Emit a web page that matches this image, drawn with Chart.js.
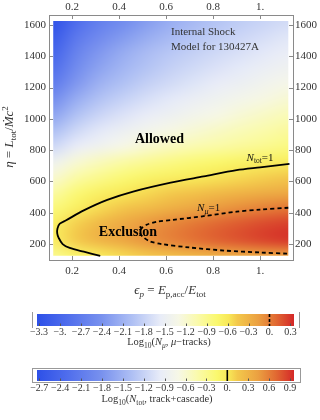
<!DOCTYPE html>
<html lang="en">
<head>
<meta charset="UTF-8">
<title>Internal Shock Model for 130427A</title>
<script src="https://cdn.jsdelivr.net/npm/chart.js"></script>
<style>
  body { margin: 0; background: #fff; }
  #wrap { position: relative; width: 320px; height: 420px; }
  #wrap canvas { position: absolute; left: 0; }
  #main { top: 0; }
  #barMu { top: 306px; }
  #barTot { top: 362px; }
</style>
</head>
<body>
<div id="wrap">
  <canvas id="main" width="320" height="300"></canvas>
  <canvas id="barMu" width="320" height="48"></canvas>
  <canvas id="barTot" width="320" height="52"></canvas>
</div>

<script>
// axis ticks
const epsTicks = [0.2, 0.4, 0.6, 0.8, 1.0];
const epsTickLabels = ['0.2', '0.4', '0.6', '0.8', '1.'];
const etaTicks = [200, 400, 600, 800, 1000, 1200, 1400, 1600];

// contour N_tot = 1 (solid)
const ntotEps = [1.125, 1.0, 0.90, 0.76, 0.62, 0.46, 0.35, 0.25, 0.175, 0.148, 0.138, 0.137, 0.143, 0.16, 0.19, 0.25, 0.32];
const ntotEta = [712, 690, 672, 632, 592, 535, 482, 415, 352, 330, 300, 268, 240, 200, 175, 151, 125];

// contour N_mu = 1 (dashed)
const nmuEps = [1.12, 1.0, 0.9, 0.76, 0.63, 0.56, 0.52, 0.495, 0.49, 0.50, 0.53, 0.58, 0.70, 0.85, 1.0, 1.12];
const nmuEta = [432, 420, 407, 378, 355, 342, 325, 300, 272, 248, 218, 200, 178, 158, 146, 138];

// density grid: Log10(N_tot), rows from eta = 125 (bottom) to 1625 (top)
const gridEps = [0.12, 0.22, 0.32, 0.42, 0.52, 0.62, 0.72, 0.82, 0.92, 1.02, 1.12];
const gridEta = [125, 225, 325, 425, 525, 625, 725, 825, 925, 1025, 1125, 1225, 1325, 1425, 1525, 1625];
const logNtot = [
  [-0.30, -0.12, 0.00, 0.08, 0.15, 0.22, 0.28, 0.33, 0.37, 0.40, 0.42],
  [-0.04, 0.14, 0.30, 0.40, 0.50, 0.58, 0.66, 0.73, 0.79, 0.85, 0.90],
  [-0.06, 0.12, 0.28, 0.38, 0.48, 0.56, 0.64, 0.71, 0.77, 0.83, 0.87],
  [-0.20, -0.04, 0.08, 0.18, 0.26, 0.34, 0.41, 0.48, 0.54, 0.60, 0.65],
  [-0.38, -0.18, -0.06, 0.02, 0.08, 0.14, 0.20, 0.26, 0.31, 0.35, 0.38],
  [-0.60, -0.40, -0.28, -0.18, -0.10, -0.05, 0.00, 0.04, 0.08, 0.12, 0.16],
  [-0.85, -0.62, -0.50, -0.40, -0.32, -0.25, -0.19, -0.14, -0.09, -0.05, -0.02],
  [-1.15, -0.95, -0.82, -0.70, -0.60, -0.52, -0.45, -0.40, -0.35, -0.30, -0.24],
  [-1.38, -1.15, -1.00, -0.88, -0.78, -0.69, -0.62, -0.55, -0.48, -0.42, -0.36],
  [-1.63, -1.35, -1.17, -1.05, -0.95, -0.86, -0.78, -0.70, -0.62, -0.55, -0.48],
  [-1.85, -1.55, -1.34, -1.20, -1.08, -0.99, -0.91, -0.83, -0.75, -0.68, -0.61],
  [-2.10, -1.74, -1.50, -1.35, -1.22, -1.12, -1.03, -0.95, -0.88, -0.80, -0.73],
  [-2.28, -1.88, -1.63, -1.46, -1.33, -1.22, -1.13, -1.05, -0.98, -0.91, -0.84],
  [-2.43, -2.00, -1.74, -1.56, -1.41, -1.30, -1.22, -1.14, -1.07, -1.00, -0.93],
  [-2.57, -2.15, -1.90, -1.72, -1.56, -1.43, -1.33, -1.24, -1.16, -1.09, -1.02],
  [-2.70, -2.30, -2.05, -1.88, -1.70, -1.55, -1.43, -1.33, -1.25, -1.18, -1.12]
];

// colorbar ticks
const muBarTicks = [-3.3, -3.0, -2.7, -2.4, -2.1, -1.8, -1.5, -1.2, -0.9, -0.6, -0.3, 0, 0.3];
const muBarLabels = ['\u22123.3', '\u22123.', '\u22122.7', '\u22122.4', '\u22122.1', '\u22121.8', '\u22121.5', '\u22121.2', '\u22120.9', '\u22120.6', '\u22120.3', '0.', '0.3'];
const totBarTicks = [-2.7, -2.4, -2.1, -1.8, -1.5, -1.2, -0.9, -0.6, -0.3, 0, 0.3, 0.6, 0.9];
const totBarLabels = ['\u22122.7', '\u22122.4', '\u22122.1', '\u22121.8', '\u22121.5', '\u22121.2', '\u22120.9', '\u22120.6', '\u22120.3', '0.', '0.3', '0.6', '0.9'];
const muRange = [-3.329, 0.351];
const totRange = [-2.733, 0.958];

// colour map (blue - white - yellow - red)
const cmapStops = [0, 0.12, 0.25, 0.37, 0.48, 0.55, 0.62, 0.70, 0.745, 0.78, 0.86, 0.93, 1];
const cmapColors = [[45, 80, 232], [80, 110, 236], [120, 145, 238], [175, 192, 244], [232, 236, 248], [246, 247, 230],
  [250, 250, 175], [250, 248, 110], [248, 232, 88], [243, 200, 75], [235, 160, 65], [225, 105, 50], [212, 40, 40]];

const SERIF = '"Liberation Serif", "DejaVu Serif", serif';
const f = (size, style) => (style || '') + ' ' + size + 'px ' + SERIF;
const TEXT = '#333';
const FRAME = '#8a8a8a';

function rgb(c) { return 'rgb(' + c[0] + ',' + c[1] + ',' + c[2] + ')'; }

function colorAt(t) {
  t = Math.max(0, Math.min(1, t));
  for (let i = 1; i < cmapStops.length; i++) {
    if (t <= cmapStops[i]) {
      const k = (t - cmapStops[i - 1]) / (cmapStops[i] - cmapStops[i - 1]);
      const a = cmapColors[i - 1], b = cmapColors[i];
      return [0, 1, 2].map(j => Math.round(a[j] + (b[j] - a[j]) * k));
    }
  }
  return cmapColors[cmapColors.length - 1];
}

// text with sub/superscripts, parts = [text, font, dy]
function rich(ctx, parts, x, y, align) {
  let w = 0;
  parts.forEach(p => { ctx.font = p[1]; w += ctx.measureText(p[0]).width; });
  let cx = align === 'left' ? x : x - w / 2;
  ctx.textAlign = 'left';
  ctx.textBaseline = 'alphabetic';
  parts.forEach(p => {
    ctx.font = p[1];
    ctx.fillText(p[0], cx, y + (p[2] || 0));
    cx += ctx.measureText(p[0]).width;
  });
}

// density plot drawn under the contour lines
const heatPlugin = {
  id: 'heat',
  beforeDatasetsDraw(chart) {
    const { ctx, scales: { x, y } } = chart;
    const nx = gridEps.length, ny = gridEta.length;
    const off = document.createElement('canvas');
    off.width = nx; off.height = ny;
    const octx = off.getContext('2d');
    const img = octx.createImageData(nx, ny);
    for (let j = 0; j < ny; j++) {
      for (let i = 0; i < nx; i++) {
        const v = logNtot[ny - 1 - j][i];
        const c = colorAt((v - totRange[0]) / (totRange[1] - totRange[0]));
        const k = (j * nx + i) * 4;
        img.data[k] = c[0]; img.data[k + 1] = c[1]; img.data[k + 2] = c[2]; img.data[k + 3] = 255;
      }
    }
    octx.putImageData(img, 0, 0);
    const dx = gridEps[1] - gridEps[0], dy = gridEta[1] - gridEta[0];
    const l = x.getPixelForValue(gridEps[0] - dx / 2), r = x.getPixelForValue(gridEps[nx - 1] + dx / 2);
    const t = y.getPixelForValue(gridEta[ny - 1] + dy / 2), b = y.getPixelForValue(gridEta[0] - dy / 2);
    const cl = x.getPixelForValue(gridEps[0]), cr = x.getPixelForValue(gridEps[nx - 1]);
    const ct = y.getPixelForValue(gridEta[ny - 1]), cb = y.getPixelForValue(gridEta[0]);
    ctx.save();
    ctx.beginPath();
    ctx.rect(cl, ct, cr - cl, cb - ct);
    ctx.clip();
    ctx.imageSmoothingEnabled = true;
    ctx.imageSmoothingQuality = 'high';
    ctx.drawImage(off, l, t, r - l, b - t);
    ctx.restore();
  }
};

// labels, frame ticks and axis titles
const labelPlugin = {
  id: 'labels',
  afterDraw(chart) {
    const { ctx, chartArea: a, scales: { x, y } } = chart;
    ctx.save();
    ctx.strokeStyle = FRAME;
    ctx.lineWidth = 1;
    ctx.beginPath();
    epsTicks.forEach(v => {
      const px = Math.round(x.getPixelForValue(v)) + 0.5;
      ctx.moveTo(px, a.bottom); ctx.lineTo(px, a.bottom - 4);
      ctx.moveTo(px, a.top); ctx.lineTo(px, a.top + 4);
    });
    etaTicks.forEach(v => {
      const py = Math.round(y.getPixelForValue(v)) + 0.5;
      ctx.moveTo(a.left, py); ctx.lineTo(a.left + 4, py);
      ctx.moveTo(a.right, py); ctx.lineTo(a.right - 4, py);
    });
    ctx.stroke();

    const px = v => x.getPixelForValue(v), py = v => y.getPixelForValue(v);
    ctx.fillStyle = TEXT;
    rich(ctx, [['Internal Shock', f(11)]], px(0.621), py(1536), 'left');
    rich(ctx, [['Model for 130427A', f(11)]], px(0.621), py(1440), 'left');
    ctx.fillStyle = '#000';
    rich(ctx, [['Allowed', f(14, 'bold')]], px(0.572), py(849));
    rich(ctx, [['Exclusion', f(14, 'bold')]], px(0.438), py(251));
    ctx.fillStyle = '#111';
    rich(ctx, [['N', f(11, 'italic')], ['tot', f(7.5), 2.5], ['=1', f(11)]], px(1.0), py(731));
    rich(ctx, [['N', f(11, 'italic')], ['\u03bc', f(8, 'italic'), 2.5], ['=1', f(11)]], px(0.781), py(411));

    ctx.fillStyle = TEXT;
    rich(ctx, [['\u03f5', f(13, 'italic')], ['p', f(9, 'italic'), 3], [' = ', f(13)], ['E', f(13, 'italic')],
      ['p,acc', f(9), 3], ['/', f(13)], ['E', f(13, 'italic')], ['tot', f(9), 3]], 170, 294);

    ctx.translate(13, 137);
    ctx.rotate(-Math.PI / 2);
    rich(ctx, [['\u03b7', f(13, 'italic')], [' = ', f(13)], ['L', f(13, 'italic')], ['tot', f(9), 3], ['/', f(13)],
      ['\u1e40', f(13, 'italic')], ['c', f(13, 'italic')], ['2', f(9), -5.5]], 0, 0);
    ctx.restore();
  }
};

const toPoints = (xs, ys) => xs.map((v, i) => ({ x: v, y: ys[i] }));

const tickFont = { family: SERIF, size: 11 };
function epsAxis(pos, h, pad) {
  return {
    type: 'linear', position: pos, min: 0.102, max: 1.14,
    afterBuildTicks: s => { s.ticks = epsTicks.map(v => ({ value: v })); },
    afterFit: s => { s.height = h; },
    grid: { display: true, drawOnChartArea: false, drawTicks: false },
    border: { display: true, color: FRAME, width: 1 },
    ticks: { font: tickFont, color: TEXT, padding: pad, maxRotation: 0, autoSkip: false,
      callback: (v, i) => epsTickLabels[i] }
  };
}
function etaAxis(pos, w, pad) {
  return {
    type: 'linear', position: pos, min: 98, max: 1664,
    afterBuildTicks: s => { s.ticks = etaTicks.map(v => ({ value: v })); },
    afterFit: s => { s.width = w; },
    grid: { display: true, drawOnChartArea: false, drawTicks: false },
    border: { display: true, color: FRAME, width: 1 },
    ticks: { font: tickFont, color: TEXT, padding: pad, autoSkip: false, callback: v => String(v) }
  };
}

new Chart(document.getElementById('main'), {
  type: 'scatter',
  data: {
    datasets: [{
      data: toPoints(ntotEps, ntotEta),
      showLine: true, borderColor: '#000', borderWidth: 1.8, pointRadius: 0, tension: 0.3, xAxisID: 'x', yAxisID: 'y'
    }, {
      data: toPoints(nmuEps, nmuEta),
      showLine: true, borderColor: '#000', borderWidth: 1.8, borderDash: [4, 3], pointRadius: 0, tension: 0.3,
      xAxisID: 'x', yAxisID: 'y'
    }]
  },
  options: {
    responsive: false,
    animation: false,
    layout: { padding: 0 },
    plugins: { legend: { display: false }, tooltip: { enabled: false } },
    scales: {
      x: epsAxis('bottom', 40, 5),
      x2: epsAxis('top', 15, 1),
      y: etaAxis('left', 49, 3),
      y2: etaAxis('right', 27, 2)
    }
  },
  plugins: [heatPlugin, labelPlugin]
});

// colour bars
function makeBar(id, range, ticks, labels, title, titleX, titleDy, dashed, boxed, padTop, barH, axisH, labelPad) {
  const barPlugin = {
    id: 'bar' + id,
    beforeDatasetsDraw(chart) {
      const { ctx, chartArea: a, scales: { x } } = chart;
      ctx.save();
      const g = ctx.createLinearGradient(a.left, 0, a.right, 0);
      cmapStops.forEach((s, i) => g.addColorStop(s, rgb(cmapColors[i])));
      ctx.fillStyle = g;
      ctx.fillRect(a.left, a.top, a.right - a.left, a.bottom - a.top);

      ctx.strokeStyle = '#555';
      ctx.lineWidth = 1;
      ctx.beginPath();
      ticks.forEach(v => {
        const px = Math.round(x.getPixelForValue(v)) + 0.5;
        ctx.moveTo(px, a.bottom); ctx.lineTo(px, a.bottom - 2.5);
      });
      ctx.stroke();

      const m = x.getPixelForValue(0);
      ctx.strokeStyle = '#000';
      ctx.lineWidth = 1.6;
      ctx.setLineDash(dashed ? [3, 2] : []);
      ctx.beginPath();
      ctx.moveTo(m, a.top); ctx.lineTo(m, a.bottom);
      ctx.stroke();
      ctx.setLineDash([]);

      ctx.strokeStyle = '#999';
      ctx.lineWidth = 1;
      if (boxed) {
        ctx.strokeRect(a.left - 4.5, a.top - 1.5, a.right - a.left + 11, a.bottom - a.top + 3);
      } else {
        ctx.beginPath();
        ctx.moveTo(a.left - 4.5, a.top - 2); ctx.lineTo(a.left - 4.5, a.bottom + 2);
        ctx.moveTo(a.right + 5.5, a.top - 2); ctx.lineTo(a.right + 5.5, a.bottom + 2);
        ctx.stroke();
      }

      ctx.fillStyle = TEXT;
      rich(ctx, title, titleX, a.bottom + titleDy);
      ctx.restore();
    }
  };
  return new Chart(document.getElementById(id), {
    type: 'scatter',
    data: { datasets: [{ data: [] }] },
    options: {
      responsive: false,
      animation: false,
      layout: { padding: { left: 37, right: 26, top: padTop, bottom: 0 } },
      plugins: { legend: { display: false }, tooltip: { enabled: false } },
      scales: {
        x: {
          type: 'linear', min: range[0], max: range[1],
          afterBuildTicks: s => { s.ticks = ticks.map(v => ({ value: v })); },
          afterFit: s => { s.height = axisH; },
          grid: { display: false, drawTicks: false },
          border: { display: false },
          ticks: { font: { family: SERIF, size: 10 }, color: TEXT, padding: labelPad, maxRotation: 0, autoSkip: false,
            callback: (v, i) => labels[i] }
        },
        y: { display: false, min: 0, max: 1 }
      }
    },
    plugins: [barPlugin]
  });
}

makeBar('barMu', muRange, muBarTicks, muBarLabels,
  [['Log', f(10.5)], ['10', f(7.5), 2.5], ['(', f(10.5)], ['N', f(10.5, 'italic')], ['\u03bc', f(7.5, 'italic'), 2.5],
   [', ', f(10.5)], ['\u03bc', f(10.5, 'italic')], ['\u2212tracks)', f(10.5)]],
  169, 19, true, false, 8, 12, 28, 0);

makeBar('barTot', totRange, totBarTicks, totBarLabels,
  [['Log', f(10.5)], ['10', f(7.5), 2.5], ['(', f(10.5)], ['N', f(10.5, 'italic')], ['tot', f(7.5), 2.5],
   [', track+cascade)', f(10.5)]],
  157, 21, false, true, 8, 11, 33, 1);
</script>
</body>
</html>
